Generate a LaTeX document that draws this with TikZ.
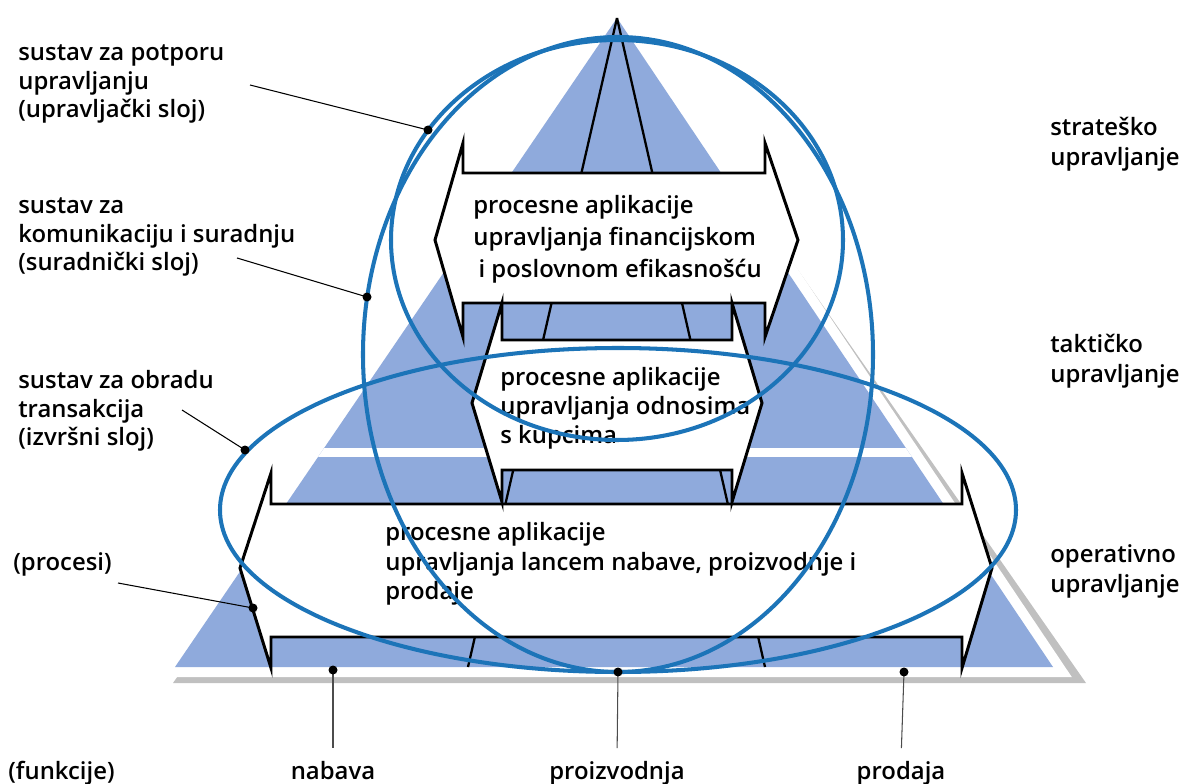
\documentclass[tikz,border=0pt]{standalone}
\usepackage{fontspec}
\setmainfont{Open Sans}[UprightFont={* Semibold}]
\usetikzlibrary{calc}
\definecolor{pyrblue}{RGB}{143,170,220}
\definecolor{ringblue}{RGB}{28,116,184}
\definecolor{shadowgray}{RGB}{192,192,192}
\tikzset{
  ring/.style={draw=ringblue, line width=2.3pt},
  procarrow/.style={draw=black, fill=white, line width=1.7pt},
  colline/.style={draw=black, line width=1.3pt},
  pointer/.style={draw=black, line width=0.6pt},
  fnpointer/.style={draw=black!70, line width=0.6pt, shorten >=7pt},
  pdot/.style={fill=black},
  lbl/.style={font=\fontsize{13.6}{16.3}\selectfont, align=left, inner sep=0pt, anchor=north west},
  rlbl/.style={lbl, font=\fontsize{13.6}{17}\selectfont},
  ptext/.style={lbl, font=\fontsize{13.6}{17}\selectfont},
  fnlbl/.style={font=\fontsize{13.6}{16}\selectfont, inner sep=0pt, anchor=base}
}
\begin{document}
\begin{tikzpicture}[x=0.02cm, y=-0.02cm]
  \useasboundingbox (0,0) rectangle (1188,784);
  % pyramid with shadow
  \coordinate (apex) at (617,18);
  \coordinate (baseL) at (175,667);
  \coordinate (baseR) at (1053,667);
  \fill[shadowgray] (632,32) -- (1086,683) -- (173,683) -- cycle;
  \draw[white, line width=11.4pt] (apex) -- (baseR) -- (baseL) -- cycle;
  \fill[pyrblue] (apex) -- (baseR) -- (baseL) -- cycle;
  \begin{scope}
    \clip (apex) -- (baseR) -- (baseL) -- cycle;
    \fill[white] (150,448) rectangle (1100,457);
  \end{scope}
  % columns (functions)
  \coordinate (colL) at (468,667);
  \coordinate (colR) at (765,667);
  \draw[colline] (apex) -- (colL);
  \draw[colline] (apex) -- (colR);

  % process arrows
  \draw[procarrow] (463,173) -- (463,143) -- (435,240) -- (463,337) -- (463,303)
    -- (765,303) -- (765,337) -- (798,240) -- (765,143) -- (765,173) -- cycle;
  \draw[procarrow] (271,504) -- (271,473) -- (240,568) -- (271,668) -- (271,637)
    -- (962,637) -- (962,668) -- (992,568) -- (962,473) -- (962,504) -- cycle;
  \draw[procarrow] (502,340) -- (502,303) -- (472,403) -- (502,502) -- (502,470)
    -- (732,470) -- (732,502) -- (762,403) -- (732,303) -- (732,340) -- cycle;

  \node[ptext, font=\fontsize{13.6}{18.2}\selectfont] (txtFin) at (473,191)
    {\strut procesne aplikacije\\upravljanja financijskom\\\hspace{3pt}i poslovnom efikasnošću};
  \node[ptext, font=\fontsize{13.6}{16.5}\selectfont] (txtCrm) at (500,365)
    {\strut procesne aplikacije\\upravljanja odnosima\\s kupcima};
  \node[ptext] (txtScm) at (385,519)
    {\strut procesne aplikacije\\upravljanja lancem nabave, proizvodnje i\\prodaje};

  % layers of the system
  \draw[ring] (617,240) ellipse [x radius=226, y radius=200];
  \draw[ring] (618,354.5) ellipse [x radius=255, y radius=317.5];
  \draw[ring] (618,510) ellipse [x radius=398, y radius=162];

  % labels left
  \node[lbl] (lblUpr) at (18,40) {\strut sustav za potporu\\upravljanju\\(upravljački sloj)};
  \node[lbl] (lblSur) at (18,193) {\strut sustav za\\komunikaciju i suradnju\\(suradnički sloj)};
  \node[lbl] (lblIzv) at (18,368) {\strut sustav za obradu\\transakcija\\(izvršni sloj)};
  \node[fnlbl, anchor=base west] (lblProc) at (13,570) {(procesi)};
  \node[fnlbl, anchor=base west] (lblFunk) at (8,779) {(funkcije)};

  % labels right
  \node[rlbl] (lvlStrat) at (1050,114) {\strut strateško\\upravljanje};
  \node[rlbl] (lvlTakt) at (1050,331) {\strut taktičko\\upravljanje};
  \node[rlbl] (lvlOper) at (1050,541) {\strut operativno\\upravljanje};

  % functions
  \node[fnlbl] (fnNab) at (333,779) {nabava};
  \node[fnlbl] (fnProiz) at (617,779) {proizvodnja};
  \node[fnlbl] (fnProd) at (901,779) {prodaja};

  % pointers
  \coordinate (pUprS) at (250,85);   \coordinate (pUpr) at (428,130);
  \coordinate (pSurS) at (237,258);  \coordinate (pSur) at (367,297);
  \coordinate (pIzvS) at (182,410);  \coordinate (pIzv) at (245,450);
  \coordinate (pProcS) at (118,583); \coordinate (pProc) at (253,608);
  \coordinate (dNab) at (333,670);
  \coordinate (dProiz) at (618,672);
  \coordinate (dProd) at (904,672);
  \draw[pointer] (pUprS) -- (pUpr);
  \draw[pointer] (pSurS) -- (pSur);
  \draw[pointer] (pIzvS) -- (pIzv);
  \draw[pointer] (pProcS) -- (pProc);
  \draw[fnpointer] (dNab) -- (fnNab.north);
  \draw[fnpointer] (dProiz) -- (fnProiz.north);
  \draw[fnpointer] (dProd) -- (fnProd.north);
  \foreach \d in {pUpr,pSur,pIzv,pProc,dNab,dProiz,dProd}
    \fill[pdot] (\d) circle [radius=4.5];
\end{tikzpicture}
\end{document}
